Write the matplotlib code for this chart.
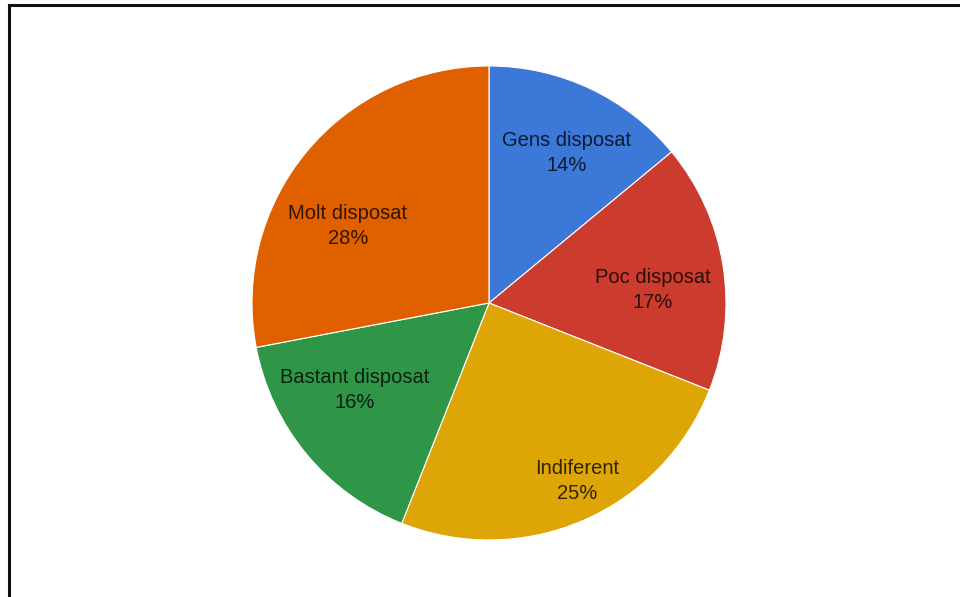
import numpy as np
import matplotlib.pyplot as plt
from matplotlib.lines import Line2D

# slices, clockwise from 12 o'clock
labels = ['Gens disposat', 'Poc disposat', 'Indiferent', 'Bastant disposat', 'Molt disposat']
values = [14, 17, 25, 16, 28]
colors = ['#3c78d8', '#cc3c2e', '#dea507', '#2f9547', '#e06000']

# label placement tweaks (radius as fraction of pie radius, angle shift in deg)
label_r = [0.713, 0.694, 0.838, 0.674, 0.678]
label_shift = [2.3, 4.5, -2.9, 6.6, -11.0]

plt.rcParams['font.family'] = ['Liberation Sans', 'DejaVu Sans']

fig = plt.figure(figsize=(9.6, 5.97), dpi=100)
ax = fig.add_axes([0.2625, 0.0955, 0.49375, 0.794])

wedges, _ = ax.pie(values, colors=colors, startangle=90, counterclock=False,
                   radius=1.0, wedgeprops=dict(edgecolor='white', linewidth=0.8))
ax.set_xlim(-1, 1)
ax.set_ylim(-1, 1)
ax.set_aspect('equal')

total = float(sum(values))
for w, lab, v, r, s in zip(wedges, labels, values, label_r, label_shift):
    # matplotlib angles run counter-clockwise, our shifts are clockwise
    ang = np.deg2rad((w.theta1 + w.theta2) / 2.0 - s)
    x, y = r * np.cos(ang), r * np.sin(ang)
    ax.text(x, y, '%s\n%d%%' % (lab, round(100 * v / total)),
            ha='center', va='center', fontsize=14.5, color='black', alpha=0.78,
            linespacing=1.45)

# frame lines on the left and top
fig.add_artist(Line2D([0.0094, 0.0094], [0.0, 0.992], transform=fig.transFigure,
                      color='#111111', linewidth=2.2))
fig.add_artist(Line2D([0.0094, 1.0], [0.992, 0.992], transform=fig.transFigure,
                      color='#111111', linewidth=2.2))

fig.savefig('out.png', dpi=100)
